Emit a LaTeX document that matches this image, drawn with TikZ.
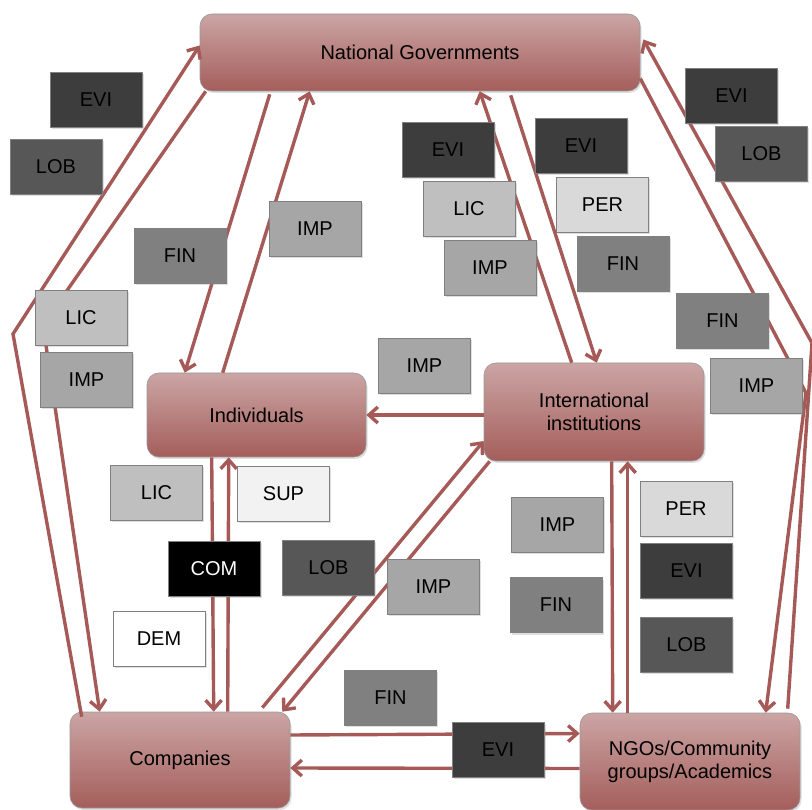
\documentclass[tikz,border=0pt]{standalone}
\usepackage{fontspec}
\setmainfont{Liberation Sans}
\usetikzlibrary{arrows.meta,calc,shadows}
\definecolor{RT}{HTML}{CBA5A4}
\definecolor{RB}{HTML}{A45E5B}
\definecolor{RA}{HTML}{A65A58}

\begin{document}
\begin{tikzpicture}[x=1pt,y=-1pt,
    actor/.style={rounded corners=12pt, top color=RT, bottom color=RB,
      draw=black!40, line width=0.6pt, inner sep=0pt, align=center,
      font=\fontsize{20}{23}\selectfont,
      drop shadow={opacity=0.25,shadow xshift=1.5pt,shadow yshift=-2pt}},
    tag/.style={draw=black!50, line width=0.7pt, minimum width=92pt,
      minimum height=55pt, inner sep=0pt, font=\fontsize{20}{23}\selectfont,
      drop shadow={opacity=0.25,shadow xshift=1.5pt,shadow yshift=-2pt}},
    flow/.style={draw=RA, line width=3.4pt,
      -{Straight Barb[length=9pt,width=16pt]}}]
  \useasboundingbox (0,0) rectangle (812,810);

  \node[actor, minimum width=440pt, minimum height=77pt] (ng) at (420,52.5) {National Governments};
  \node[actor, minimum width=219pt, minimum height=84pt] (ind) at (256.5,415) {Individuals};
  \node[actor, minimum width=220pt, minimum height=98pt] (ii) at (594,412) {International\\institutions};
  \node[actor, minimum width=220pt, minimum height=96pt] (co) at (180,760) {Companies};
  \node[actor, minimum width=220pt, minimum height=97pt] (ngo) at (690,761.5) {NGOs/Community\\groups/Academics};

  \coordinate (lc1) at (13,334);
  \coordinate (lc2) at (43,325);
  \coordinate (rc1) at (806,393);
  \coordinate (rc2) at (812,343);

  \draw[flow] ($(co.north west)+(12,5)$) -- (lc1) -- ($(ng.west)+(0,-7)$);
  \draw[flow] ($(ng.south west)+(6,0)$) -- (lc2) -- ($(co.north west)+(30,0)$);
  \draw[flow] ($(ng.south west)+(70,3)$) -- ($(ind.north west)+(38,0)$);
  \draw[flow] ($(ind.north west)+(76,0)$) -- ($(ng.south west)+(110,0)$);
  \draw[flow] ($(ii.north west)+(88,0)$) -- ($(ng.south west)+(280,0)$);
  \draw[flow] ($(ng.south west)+(311,4)$) -- ($(ii.north west)+(113,0)$);
  \draw[flow] ($(ng.east)+(0,26)$) -- (rc1) -- ($(ngo.north west)+(186,0)$);
  \draw[flow] ($(ngo.north west)+(208,-4)$) -- (rc2) -- ($(ng.east)+(3,-13)$);
  \draw[flow] ($(ii.west)+(0,3)$) -- (ind.east);
  \draw[flow] ($(ind.south west)+(65,0)$) -- ($(co.north west)+(144,0)$);
  \draw[flow] ($(co.north west)+(158,0)$) -- ($(ind.south west)+(82,0)$);
  \draw[flow] ($(co.north east)+(-28,-4)$) -- ($(ii.west)+(0,29)$);
  \draw[flow] ($(ii.south west)+(6,0)$) -- ($(co.north east)+(-8,0)$);
  \draw[flow] ($(ii.south west)+(128,0)$) -- ($(ngo.north west)+(33,0)$);
  \draw[flow] ($(ngo.north west)+(48,0)$) -- ($(ii.south west)+(144,0)$);
  \draw[flow] ($(co.east)+(0,-25)$) -- ($(ngo.west)+(0,-28)$);
  \draw[flow] ($(ngo.west)+(0,7)$) -- ($(co.east)+(0,8)$);

  \foreach \px/\py/\lab/\g/\tc [count=\i] in {
      96/99.5/EVI/76/black, 56/166.5/LOB/66/black, 180/255.5/FIN/50/black,
      315/228.5/IMP/35/black, 81/317.5/LIC/25/black, 86.5/380/IMP/35/black,
      448/149.5/EVI/76/black, 469/208.5/LIC/25/black, 490/267.5/IMP/35/black,
      581/146/EVI/76/black, 602.5/205/PER/15/black, 623/264/FIN/50/black,
      731.5/96/EVI/76/black, 761.5/153.5/LOB/66/black, 722.5/321/FIN/50/black,
      756.5/385.5/IMP/35/black, 424.5/365.5/IMP/35/black,
      156.5/492.5/LIC/25/black, 283.5/493.5/SUP/5/black,
      214/568.5/COM/100/white, 328.5/567.5/LOB/66/black,
      159/638.5/DEM/0/black, 433.5/586.5/IMP/35/black,
      557.5/524.5/IMP/35/black, 556/605/FIN/50/black,
      686/508.5/PER/15/black, 686.5/570.5/EVI/76/black,
      686.5/644.5/LOB/66/black, 390.5/697.5/FIN/50/black,
      498/749.5/EVI/76/black}{
    \node[tag, fill=black!\g, text=\tc] (t\i) at (\px,\py) {\lab};
  }
\end{tikzpicture}
\end{document}
